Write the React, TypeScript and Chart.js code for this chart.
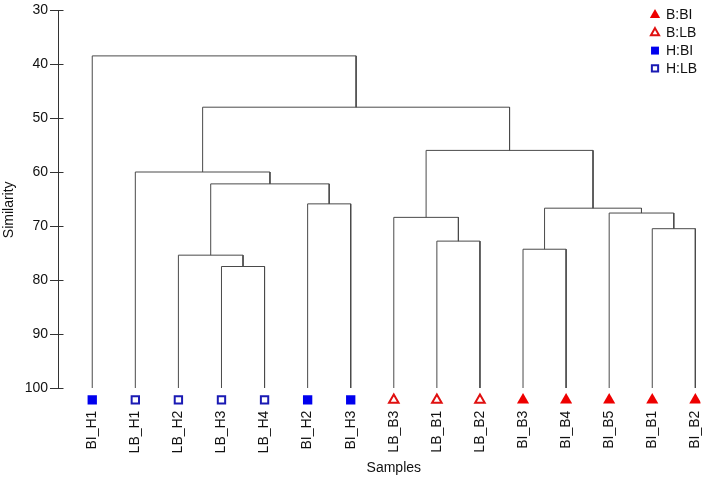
import React, { useEffect, useRef } from 'react';
import { Chart, registerables } from 'chart.js';
import { drawPoint } from 'chart.js/helpers';

Chart.register(...registerables);

// ---- data ----
const leafNames = ['BI_H1', 'LB_H1', 'LB_H2', 'LB_H3', 'LB_H4', 'BI_H2', 'BI_H3', 'LB_B3', 'LB_B1', 'LB_B2', 'BI_B3', 'BI_B4', 'BI_B5', 'BI_B1', 'BI_B2'];
const leafGroups = ['H:BI', 'H:LB', 'H:LB', 'H:LB', 'H:LB', 'H:BI', 'H:BI', 'B:LB', 'B:LB', 'B:LB', 'B:BI', 'B:BI', 'B:BI', 'B:BI', 'B:BI'];
// merges: node ids 0..14 are leaves, each merge k creates node 15 + k
const mergeLeft = [13, 12, 10, 17, 8, 7, 20, 3, 2, 5, 23, 1, 26, 0];
const mergeRight = [14, 15, 11, 16, 9, 19, 18, 4, 22, 6, 24, 25, 21, 27];
const mergeHeights = [70.5, 67.6, 74.3, 66.7, 72.8, 68.4, 56.0, 77.5, 75.4, 65.9, 62.2, 60.0, 48.0, 38.5];
const leafLevel = 100;
const markerLevel = 102.2;
const yTickValues = [30, 40, 50, 60, 70, 80, 90, 100];
const groups = ['B:BI', 'B:LB', 'H:BI', 'H:LB'];
const xTitle = 'Samples';
const yTitle = 'Similarity';

const FONT = "'Liberation Sans', Arial, Helvetica, sans-serif";

const groupStyles: Record<string, any> = {
  'B:BI': { pointStyle: 'triangle', radius: 7, fill: '#ee0000', stroke: '#ee0000', bw: 0 },
  'B:LB': { pointStyle: 'triangle', radius: 5.5, fill: '#ffffff', stroke: '#e01010', bw: 2 },
  'H:BI': { pointStyle: 'rect', radius: 6.6, fill: '#0000ee', stroke: '#0000ee', bw: 0 },
  'H:LB': { pointStyle: 'rect', radius: 5.2, fill: '#ffffff', stroke: '#1a1ab4', bw: 2 },
};

function buildDatasets() {
  const nodeX: number[] = leafNames.map((_, i) => i);
  const nodeY: number[] = leafNames.map(() => leafLevel);
  mergeHeights.forEach((h, k) => {
    const a = mergeLeft[k];
    const b = mergeRight[k];
    nodeX.push((nodeX[a] + nodeX[b]) / 2);
    nodeY.push(h);
  });
  const tree = mergeHeights.map((h, k) => {
    const a = mergeLeft[k];
    const b = mergeRight[k];
    return {
      type: 'scatter',
      label: 'tree',
      data: [
        { x: nodeX[a], y: nodeY[a] },
        { x: nodeX[a], y: h },
        { x: nodeX[b], y: h },
        { x: nodeX[b], y: nodeY[b] },
      ],
      showLine: true,
      borderColor: '#4a4a4a',
      borderWidth: 1,
      pointRadius: 0,
      pointHoverRadius: 0,
      fill: false,
      tension: 0,
    };
  });
  const markers = groups.map((g) => {
    const s = groupStyles[g];
    return {
      type: 'scatter',
      label: g,
      isGroup: true,
      data: leafNames
        .map((_, i) => ({ x: i, y: markerLevel }))
        .filter((_, i) => leafGroups[i] === g),
      showLine: false,
      pointStyle: s.pointStyle,
      pointRadius: s.radius,
      pointHoverRadius: s.radius,
      pointBackgroundColor: s.fill,
      pointBorderColor: s.stroke,
      pointBorderWidth: s.bw,
      borderColor: s.stroke,
      backgroundColor: s.fill,
    };
  });
  return [...tree, ...markers];
}

const axisPlugin = {
  id: 'axisLine',
  afterDraw(chart: any) {
    const { ctx, chartArea } = chart;
    const ys = chart.scales.y;
    const xs = chart.scales.x;
    const align = (p: number) => Math.round(p - 0.5) + 0.5;
    const x = align(chartArea.left);
    const yTop = align(ys.getPixelForValue(yTickValues[0]));
    const yBot = align(ys.getPixelForValue(yTickValues[yTickValues.length - 1]));
    ctx.save();
    ctx.strokeStyle = '#333333';
    ctx.lineWidth = 1;
    ctx.beginPath();
    ctx.moveTo(x, yTop - 0.5);
    ctx.lineTo(x, yBot + 0.5);
    yTickValues.forEach((v) => {
      const py = align(ys.getPixelForValue(v));
      ctx.moveTo(x, py);
      ctx.lineTo(x + 5, py);
    });
    ctx.stroke();
    // x-axis title centred under the span of the leaves
    const cx = (xs.getPixelForValue(0) + xs.getPixelForValue(leafNames.length - 1)) / 2;
    ctx.fillStyle = '#111111';
    ctx.font = `14px ${FONT}`;
    ctx.textAlign = 'center';
    ctx.textBaseline = 'middle';
    ctx.fillText(xTitle, cx, chart.height - 12);
    ctx.restore();
  },
};

const legendPlugin = {
  id: 'cornerLegend',
  afterDraw(chart: any) {
    const { ctx } = chart;
    const sets = chart.data.datasets.filter((d: any) => d.isGroup);
    const mx = chart.width - 53;
    const tx = chart.width - 42;
    ctx.save();
    sets.forEach((d: any, i: number) => {
      const y = 15 + i * 17.8;
      ctx.fillStyle = d.pointBackgroundColor;
      ctx.strokeStyle = d.pointBorderColor;
      ctx.lineWidth = d.pointBorderWidth;
      drawPoint(ctx, { pointStyle: d.pointStyle, radius: d.pointRadius * 0.85, borderWidth: d.pointBorderWidth, rotation: 0 } as any, mx, y);
      ctx.fillStyle = '#111111';
      ctx.font = `14px ${FONT}`;
      ctx.textAlign = 'left';
      ctx.textBaseline = 'middle';
      ctx.fillText(d.label, tx, y + 0.5);
    });
    ctx.restore();
  },
};

export default function App() {
  const ref = useRef<HTMLCanvasElement>(null);
  useEffect(() => {
    document.body.style.margin = '0';
    if (!ref.current) return;
    const chart = new Chart(ref.current, {
      type: 'scatter',
      data: { datasets: buildDatasets() as any },
      options: {
        responsive: false,
        animation: false,
        layout: { padding: { top: 10, right: 6, left: 0, bottom: 0 } },
        plugins: { legend: { display: false }, tooltip: { enabled: false } },
        events: [],
        scales: {
          x: {
            type: 'linear',
            min: -0.795,
            max: 14.12,
            afterBuildTicks: (s: any) => {
              s.ticks = leafNames.map((_, i) => ({ value: i }));
            },
            afterFit: (s: any) => {
              s.height = 70.4;
              s.paddingLeft = 0;
              s.paddingRight = 0;
            },
            grid: { display: false, drawTicks: false },
            border: { display: false },
            ticks: {
              autoSkip: false,
              minRotation: 90,
              maxRotation: 90,
              padding: 1,
              color: '#111111',
              font: { family: FONT, size: 14 },
              callback: (v: any) => leafNames[Math.round(Number(v))] ?? '',
            },
            title: { display: false },
          },
          y: {
            type: 'linear',
            reverse: true,
            min: 30,
            max: 104,
            afterBuildTicks: (s: any) => {
              s.ticks = yTickValues.map((v) => ({ value: v }));
            },
            afterFit: (s: any) => {
              s.width = 58;
              s.paddingTop = 0;
              s.paddingBottom = 0;
            },
            grid: {
              display: true,
              drawOnChartArea: false,
              drawTicks: true,
              tickLength: 8,
              color: '#333333',
              tickColor: '#333333',
            },
            border: { display: false },
            ticks: {
              padding: 2,
              color: '#111111',
              font: { family: FONT, size: 14 },
            },
            title: {
              display: true,
              text: yTitle,
              color: '#111111',
              font: { family: FONT, size: 14 },
              padding: { top: 1, bottom: 0 },
            },
          },
        },
      } as any,
      plugins: [axisPlugin, legendPlugin],
    });
    return () => chart.destroy();
  }, []);
  return (
    <div style={{ width: 708, height: 480 }}>
      <canvas ref={ref} width={708} height={480} style={{ display: 'block' }} />
    </div>
  );
}
